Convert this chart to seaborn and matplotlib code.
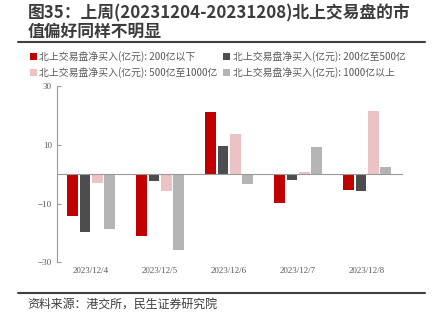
import matplotlib
matplotlib.use("Agg")
import matplotlib.pyplot as plt
import seaborn as sns
import pandas as pd
import numpy as np

dates = ["2023/12/4", "2023/12/5", "2023/12/6", "2023/12/7", "2023/12/8"]
series_names = [
    "北上交易盘净买入(亿元): 200亿以下",
    "北上交易盘净买入(亿元): 200亿至500亿",
    "北上交易盘净买入(亿元): 500亿至1000亿",
    "北上交易盘净买入(亿元): 1000亿以上",
]
s_small = [-14.2, -21.0, 21.1, -9.7, -5.5]
s_mid = [-19.7, -2.2, 9.6, -1.9, -5.6]
s_large = [-3.0, -5.6, 13.7, 0.8, 21.6]
s_huge = [-18.6, -25.7, -3.4, 9.2, 2.4]
colors = ["#C00000", "#4D4D4F", "#EBC3C4", "#B4B4B4"]
yticks = [-30, -10, 10, 30]

rows = []
for name, vals in zip(series_names, [s_small, s_mid, s_large, s_huge]):
    for d, v in zip(dates, vals):
        rows.append({"date": d, "series": name, "value": v})
df = pd.DataFrame(rows)

sns.set_style("white")
plt.rcParams["font.family"] = ["Noto Sans CJK SC", "DejaVu Sans"]

fig = plt.figure(figsize=(4.37, 3.33), dpi=100)
ax = fig.add_axes([0.1297, 0.2123, 0.7894, 0.5294])

sns.barplot(data=df, x="date", y="value", hue="series", order=dates,
            hue_order=series_names, palette=colors, width=0.72, gap=0.14,
            ax=ax, saturation=1, linewidth=0)

ax.set_ylim(-30, 30)
ax.set_xlim(-0.5, len(dates) - 0.5)
ax.set_yticks(yticks)
ax.set_xlabel("")
ax.set_ylabel("")

axis_color = "#9A9A9A"
for s in ["top", "right"]:
    ax.spines[s].set_visible(False)
ax.spines["left"].set_color(axis_color)
ax.spines["left"].set_linewidth(0.8)
ax.spines["bottom"].set_position(("data", 0))
ax.spines["bottom"].set_color(axis_color)
ax.spines["bottom"].set_linewidth(0.8)

ax.set_xticks(np.arange(len(dates)))
ax.set_xticklabels(dates)
ax.set_xticks(np.arange(len(dates) + 1) - 0.5, minor=True)
ax.tick_params(axis="x", which="major", length=0, pad=67, labelsize=6.5,
               labelcolor="#595959")
ax.tick_params(axis="x", which="minor", direction="in", length=3.5,
               color=axis_color, width=0.8)
ax.tick_params(axis="y", direction="in", length=3, color=axis_color,
               width=0.8, labelsize=6.5, labelcolor="#595959", left=True)
for lab in ax.get_xticklabels() + ax.get_yticklabels():
    lab.set_fontfamily("Liberation Serif")

handles, labels = ax.get_legend_handles_labels()
ax.get_legend().remove()
order = [0, 2, 1, 3]
leg = fig.legend([handles[i] for i in order], [labels[i] for i in order],
                 ncol=2, loc="upper left",
                 bbox_to_anchor=(0.068, 0.846), frameon=False,
                 fontsize=7.1, handlelength=0.7, handleheight=0.7,
                 handletextpad=0.25, columnspacing=0.6, labelspacing=0.47,
                 borderaxespad=0, borderpad=0)
for t in leg.get_texts():
    t.set_color("#595959")

fig.text(0.064, 0.961, "图35：上周(20231204-20231208)北上交易盘的市",
         fontsize=12.1, fontweight="bold", color="#3C3C3C", va="center",
         ha="left")
fig.text(0.064, 0.903, "值偏好同样不明显", fontsize=12.1, fontweight="bold",
         color="#3C3C3C", va="center", ha="left")

fig.add_artist(plt.Line2D([0.041, 0.973], [0.874, 0.874], color="#404040",
                          linewidth=1.5, transform=fig.transFigure))
fig.add_artist(plt.Line2D([0.041, 0.973], [0.12, 0.12], color="#404040",
                          linewidth=1.5, transform=fig.transFigure))
fig.text(0.062, 0.087, "资料来源：港交所，民生证券研究院", fontsize=8.6,
         color="#3C3C3C", va="center", ha="left")

fig.savefig("out.png", dpi=100, facecolor="white")
